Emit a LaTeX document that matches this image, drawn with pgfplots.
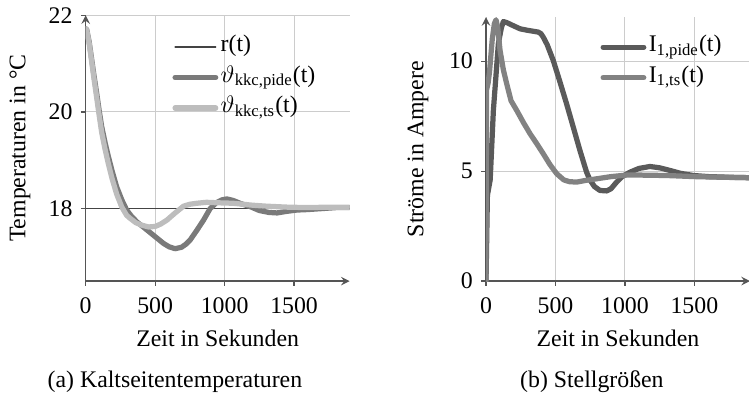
\documentclass[border=0pt]{standalone}
\usepackage{amsmath}
\usepackage{fontspec}
\setmainfont{Liberation Serif}
\usepackage{pgfplots}
\pgfplotsset{compat=1.18}
\definecolor{gridc}{HTML}{CCCCCC}
\definecolor{axc}{HTML}{555555}
\definecolor{refc}{HTML}{444444}
\definecolor{pidel}{HTML}{7A7A7A}
\definecolor{tsl}{HTML}{BDBDBD}
\definecolor{pider}{HTML}{5A5A5A}
\definecolor{tsr}{HTML}{828282}

\pgfplotstableread{
t T
0 21.72
7 21.71
25 21.45
43 21.09
60 20.75
79 20.39
97 20.03
115 19.70
140 19.36
163 19.08
190 18.78
223 18.45
260 18.18
295 17.97
330 17.84
370 17.72
410 17.63
440 17.56
500 17.42
560 17.28
600 17.21
644 17.17
690 17.20
720 17.26
752 17.35
800 17.55
848 17.76
896 18.00
940 18.12
980 18.18
1016 18.20
1060 18.17
1120 18.10
1185 18.04
1250 17.96
1320 17.92
1377 17.91
1440 17.94
1520 17.97
1600 17.98
1700 18.00
1800 18.02
1900 18.02
}\pidetemp

\pgfplotstableread{
t T
0 21.72
7 21.70
25 21.42
43 21.04
60 20.68
79 20.30
97 19.93
115 19.58
140 19.22
163 18.93
190 18.62
223 18.30
260 18.03
295 17.86
319 17.80
360 17.71
400 17.66
452 17.62
500 17.63
540 17.68
584 17.76
640 17.90
704 18.05
750 18.09
800 18.11
870 18.13
950 18.12
1063 18.11
1200 18.07
1300 18.05
1450 18.03
1600 18.02
1750 18.03
1900 18.03
}\tstemp

\pgfplotstableread{
t I
0 0
10 3.9
30 4.6
53 7.76
89 10.8
110 11.5
125 11.8
150 11.75
200 11.6
245 11.47
300 11.4
376 11.32
395 11.25
412 11.09
440 10.75
484 10.03
530 9.1
580 8.06
628 7.0
676 5.94
724 4.95
748 4.6
780 4.3
820 4.12
868 4.10
900 4.2
940 4.5
980 4.75
1036 4.95
1100 5.12
1180 5.21
1250 5.15
1324 5.03
1400 4.90
1492 4.80
1600 4.75
1750 4.72
1900 4.70
}\pidecur

\pgfplotstableread{
t I
0 0
4 8.7
15 9.0
25 9.5
45 11.0
60 11.7
72 11.88
85 11.5
101 10.49
125 9.6
149 8.97
180 8.2
221 7.76
270 7.2
317 6.7
365 6.25
412 5.79
460 5.3
509 4.88
560 4.6
600 4.52
652 4.5
720 4.58
796 4.65
900 4.75
1012 4.82
1100 4.82
1300 4.80
1500 4.75
1700 4.72
1900 4.70
}\tscur

\begin{document}
\begin{tikzpicture}
\useasboundingbox (-36pt,-47.9pt) rectangle (278.7pt,118.1pt);
\pgfplotsset{
  myax/.style={
    scale only axis,
    width=110.9pt,
    axis lines=left,
    axis line style={axc, line width=0.6pt},
    xmin=0, xmax=1900,
    xtick={0,500,1000,1500},
    grid=major,
    major grid style={gridc, line width=0.4pt},
    tick align=outside,
    major tick length=2pt,
    tick style={axc, line width=0.5pt},
    scaled ticks=false,
    /pgf/number format/1000 sep={},
    /pgf/number format/assume math mode=true,
    ticklabel style={font=\fontsize{10}{12}\selectfont},
    xticklabel style={yshift=-1.5pt},
    xlabel={Zeit in Sekunden},
    xlabel style={at={(axis description cs:0.5,0)}, anchor=center, yshift=-24pt},
    legend style={draw=none, fill=none, anchor=north west, inner sep=0pt,
      nodes={inner sep=1pt, text height=7pt, text depth=3pt}, row sep=0.8pt},
    legend cell align=left,
    every axis plot/.append style={line join=round, line cap=round},
  }
}
\begin{axis}[myax, at={(0pt,0pt)}, anchor=south west,
  height=111.7pt,
  ymin=16.5, ymax=22,
  ytick={18,20,22},
  ylabel={Temperaturen in °C},
  ylabel style={at={(axis description cs:0,0.5)}, anchor=center, rotate=0, yshift=27.6pt},
  legend style={at={(0.327,0.936)}},
]
\addplot[refc, line width=0.5pt] coordinates {(0,18) (1900,18)};
\addlegendentry{r(t)}
\addplot[pidel, line width=2.2pt] table[x=t,y=T] {\pidetemp};
\addlegendentry{$\vartheta_{\text{kkc,pide}}$(t)}
\addplot[tsl, line width=2.2pt] table[x=t,y=T] {\tstemp};
\addlegendentry{$\vartheta_{\text{kkc,ts}}$(t)}
\end{axis}
\begin{axis}[myax, at={(168.2pt,0pt)}, anchor=south west,
  height=110.9pt,
  ymin=0, ymax=12,
  ytick={0,5,10},
  ylabel={Ströme in Ampere},
  ylabel style={at={(axis description cs:0,0.5)}, anchor=center, yshift=28.6pt},
  legend style={at={(0.432,0.942)}},
]
\addplot[pider, line width=2.2pt] table[x=t,y=I] {\pidecur};
\addlegendentry{I$_{\text{1,pide}}$(t)}
\addplot[tsr, line width=2.2pt] table[x=t,y=I] {\tscur};
\addlegendentry{I$_{\text{1,ts}}$(t)}
\end{axis}
\node[anchor=center] at (37.5pt,-42.4pt) {(a) Kaltseitentemperaturen};
\node[anchor=center] at (212.7pt,-42.4pt) {(b) Stellgrößen};
\end{tikzpicture}
\end{document}
